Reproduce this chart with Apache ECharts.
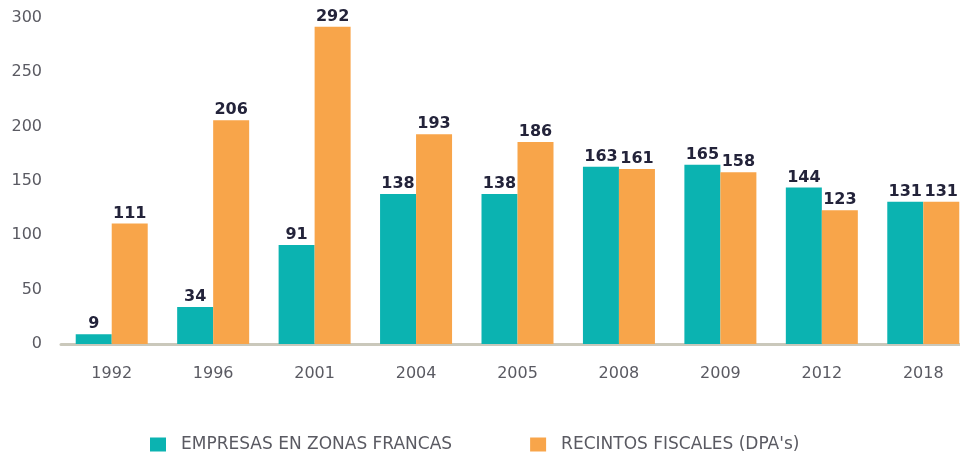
<!DOCTYPE html>
<html>
<head>
<meta charset="utf-8">
<script src="https://cdn.jsdelivr.net/npm/echarts@6/dist/echarts.min.js"></script>
<style>
  html, body { margin: 0; padding: 0; background: #fff; overflow: hidden; }
  /* el gráfico original queda recortado por la derecha */
  #chart { width: 974px; height: 456px; }
</style>
</head>
<body>
<div id="chart"></div>
<script>
var years = ['1992', '1996', '2001', '2004', '2005', '2008', '2009', '2012', '2018'];
var empresas = [9, 34, 91, 138, 138, 163, 165, 144, 131];
var recintos = [111, 206, 292, 193, 186, 161, 158, 123, 131];
var yTicks = [0, 50, 100, 150, 200, 250, 300];

var myechart = echarts.init(document.getElementById('chart'));

// etiqueta encima de cada barra
var barLabel = {
  show: true,
  position: 'top',
  distance: 2,
  color: '#23233a',
  fontFamily: 'DejaVu Sans',
  fontWeight: 'bold',
  fontSize: 16
};

myechart.setOption({
  animation: false,
  textStyle: { fontFamily: 'DejaVu Sans' },
  color: ['#0bb3b1', '#f8a54a'],
  legend: {
    top: 431,
    left: 145,
    itemWidth: 16,
    itemHeight: 14,
    itemGap: 78,
    icon: 'rect',
    textStyle: { color: '#5a5a62', fontSize: 17, padding: [0, 0, 0, 10] },
    data: ['EMPRESAS EN ZONAS FRANCAS', "RECINTOS FISCALES (DPA's)"]
  },
  grid: {
    left: 61,
    top: 18,
    right: 0,
    bottom: 112,
    containLabel: false
  },
  xAxis: {
    type: 'category',
    data: years,
    axisLine: { lineStyle: { color: '#cac8bb', width: 3 } },
    axisTick: { show: false },
    axisLabel: { color: '#5a5a62', fontSize: 16, margin: 22 }
  },
  yAxis: {
    type: 'value',
    min: yTicks[0],
    max: yTicks[yTicks.length - 1],
    interval: 50,
    splitLine: { show: false },
    axisLine: { show: false },
    axisTick: { show: false },
    axisLabel: { color: '#5a5a62', fontSize: 16, margin: 19 }
  },
  series: [
    {
      name: 'EMPRESAS EN ZONAS FRANCAS',
      type: 'bar',
      barWidth: 36,
      barGap: '0%',
      label: barLabel,
      data: empresas
    },
    {
      name: "RECINTOS FISCALES (DPA's)",
      type: 'bar',
      barWidth: 36,
      barGap: '0%',
      label: barLabel,
      data: recintos
    }
  ]
});
</script>
</body>
</html>
